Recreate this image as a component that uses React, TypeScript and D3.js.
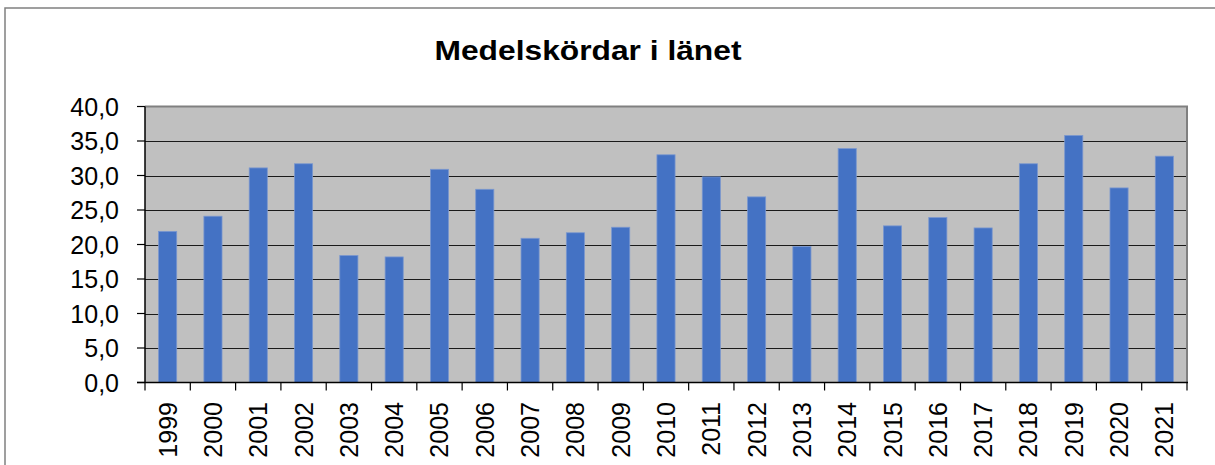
import React from "react";
import * as d3 from "d3";

const years = ["1999","2000","2001","2002","2003","2004","2005","2006","2007","2008","2009","2010","2011","2012","2013","2014","2015","2016","2017","2018","2019","2020","2021"];
const yields = [21.9,24.1,31.1,31.7,18.4,18.2,30.9,28.0,20.9,21.7,22.5,33.0,29.8,26.9,19.7,33.9,22.7,23.9,22.4,31.7,35.8,28.2,32.8];
const yTicks = [0,5,10,15,20,25,30,35,40];
const title = "Medelskördar i länet";

export default function App() {
  const W = 1215, H = 465;
  const left = 145, right = 1187, top = 106.5, bottom = 382.5;
  const x = d3.scaleBand<string>().domain(years).range([left, right]).paddingInner(0.6).paddingOuter(0.3);
  const y = d3.scaleLinear().domain([0, 40]).range([bottom, top]);
  const step = (right - left) / years.length;
  const fmt = (v: number) => v.toFixed(1).replace(".", ",");
  const font = "'Liberation Sans', Arial, sans-serif";
  return (
    <svg width={W} height={H} style={{ position: "absolute", left: 0, top: 0 }} fontFamily={font}>
      <rect x={0} y={0} width={W} height={H} fill="#fff" />
      <rect x={5} y={8} width={1400} height={600} fill="none" stroke="#808080" strokeWidth={1.5} />
      <text x={588} y={60} textAnchor="middle" fontSize={28} fontWeight="bold" textLength={307} lengthAdjust="spacingAndGlyphs">{title}</text>
      <rect x={left} y={top} width={right - left} height={bottom - top} fill="#C0C0C0" />
      {yTicks.filter(t => t > 0 && t < 40).map(t => (
        <line key={t} x1={left} x2={right} y1={Math.round(y(t)) + 0.5} y2={Math.round(y(t)) + 0.5} stroke="#1a1a1a" strokeWidth={1.2} />
      ))}
      <line x1={left} x2={right + 1} y1={top} y2={top} stroke="#808080" strokeWidth={2} />
      <line x1={right} x2={right} y1={top} y2={bottom} stroke="#808080" strokeWidth={2} />
      {years.map((yr, i) => (
        <rect key={yr} x={x(yr)} y={y(yields[i])} width={x.bandwidth()} height={bottom - y(yields[i])} fill="#4472C4" stroke="#7a97cf" strokeWidth={0.8} />
      ))}
      <line x1={left} x2={left} y1={top} y2={bottom} stroke="#000" strokeWidth={1.5} />
      <line x1={left - 8} x2={right + 1} y1={bottom} y2={bottom} stroke="#000" strokeWidth={1.5} />
      {yTicks.map(t => (
        <g key={t}>
          <line x1={left - 8} x2={left} y1={y(t)} y2={y(t)} stroke="#000" strokeWidth={1.2} />
          <text x={119} y={y(t)} dy="0.36em" textAnchor="end" fontSize={25}>{fmt(t)}</text>
        </g>
      ))}
      {d3.range(years.length + 1).map(i => (
        <line key={i} x1={left + i * step} x2={left + i * step} y1={bottom} y2={bottom + 8} stroke="#000" strokeWidth={1.2} />
      ))}
      {years.map(yr => {
        const cx = (x(yr) as number) + x.bandwidth() / 2;
        return (
          <text key={yr} transform={`translate(${cx},${402}) rotate(-90)`} dy="0.36em" textAnchor="end" fontSize={25}>{yr}</text>
        );
      })}
    </svg>
  );
}
